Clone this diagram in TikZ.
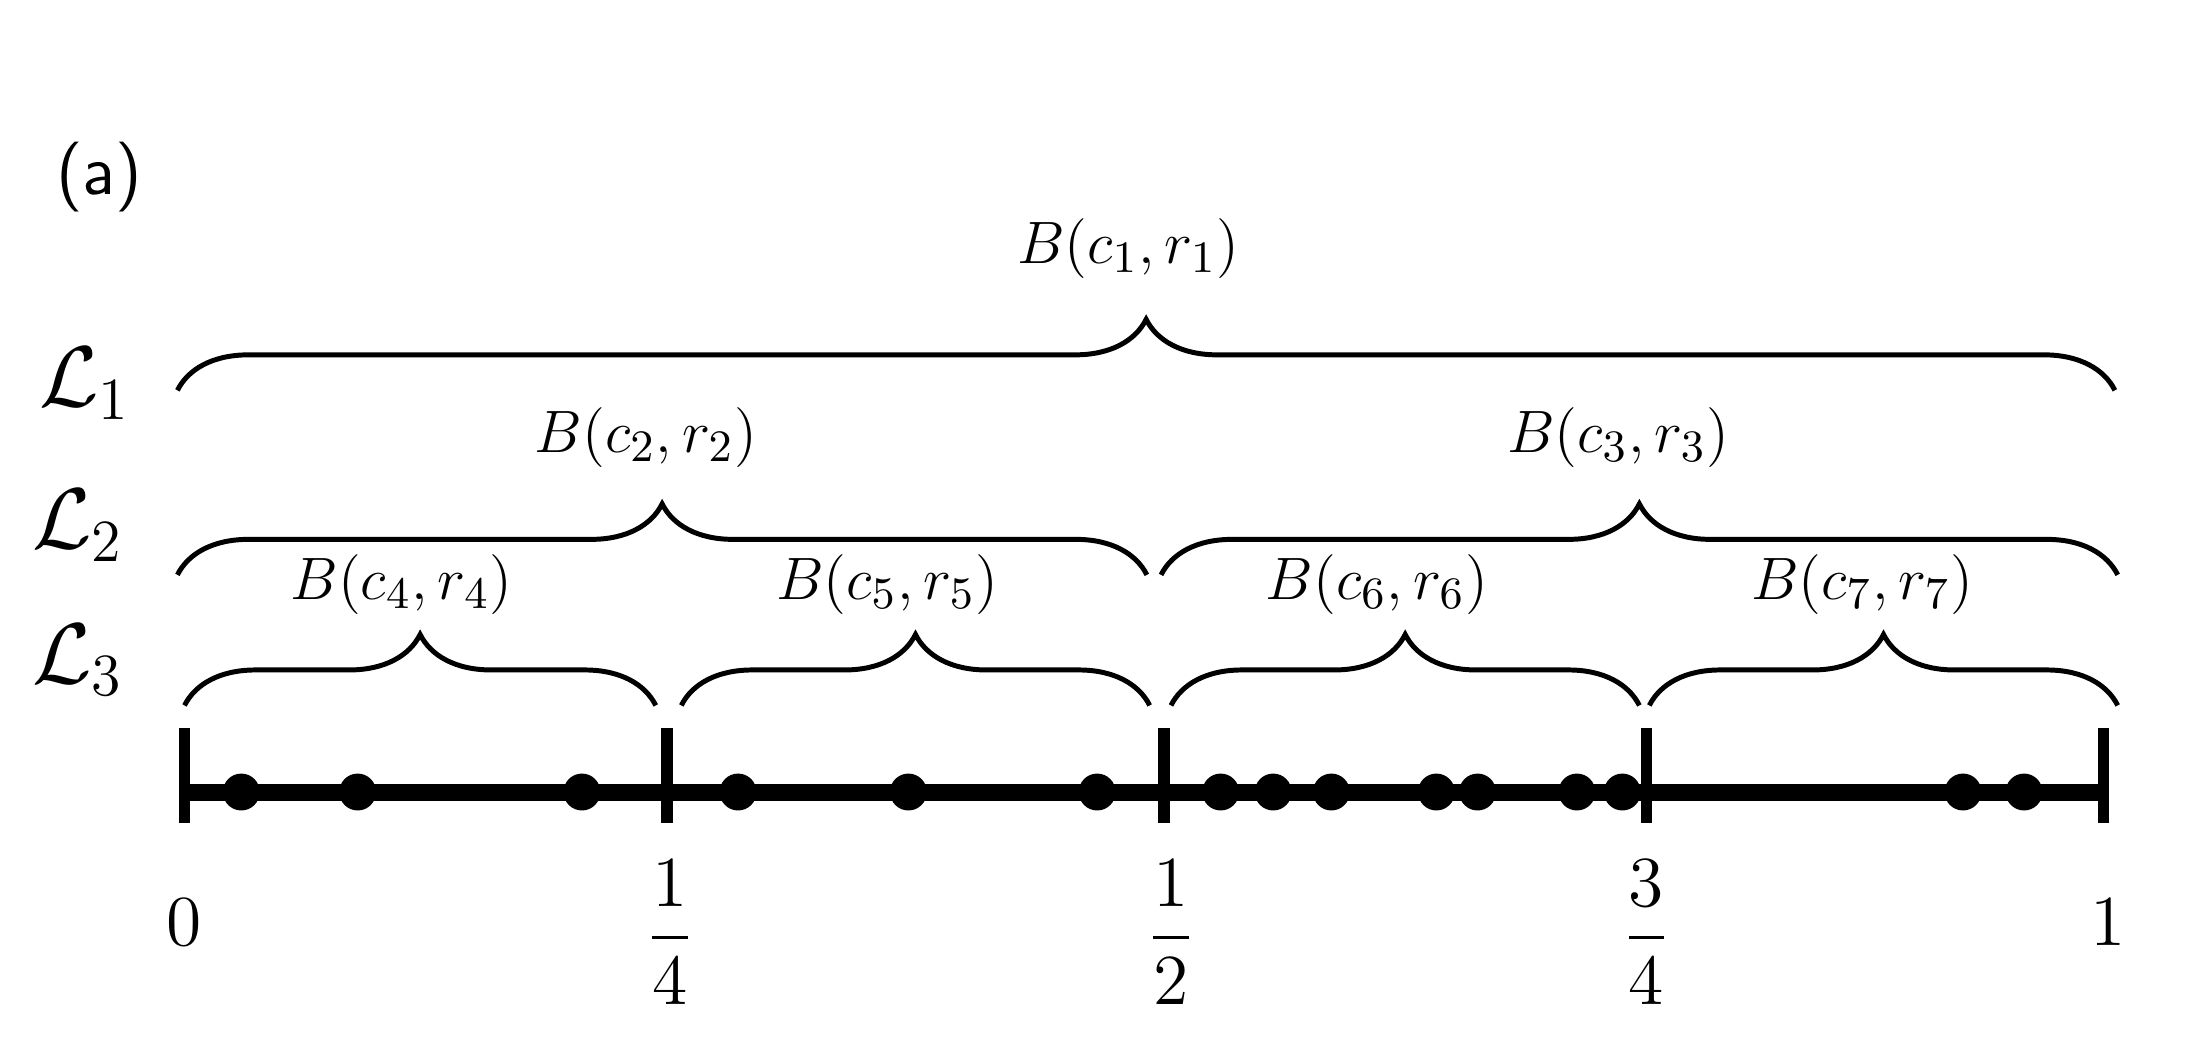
\documentclass[tikz,border=0pt]{standalone}
\usepackage{amsmath}
\usepackage{tikz}
\usetikzlibrary{decorations.pathreplacing}
\usetikzlibrary{positioning}
\usetikzlibrary{calc}
\tikzset{
  bracestyle/.style={decorate,decoration={brace,amplitude=5mm},line width=0.35mm},
  lbl/.style={font=\fontsize{13}{15}\selectfont},
  lvl/.style={font=\fontsize{17}{19}\selectfont},
  ticklbl/.style={font=\fontsize{14}{16}\selectfont}
}
\begin{document}
\begin{tikzpicture}[x=0.1mm,y=-0.1mm]
      \useasboundingbox (0,0) rectangle (1550,738);
      \node[font=\fontsize{14}{16}\selectfont\sffamily] (tag) at (70,125) {(a)};
      % axis and ticks
      \foreach \name/\x in {t0/130,t1/470,t2/820,t3/1160,t4/1482}
        \coordinate (\name) at (\x,558);
      \draw[line width=1.2mm] (t0) -- (t4);
      \foreach \name in {t0,t1,t2,t3,t4}
        \draw[line width=0.8mm] ($(\name)+(0,-45)$) -- ($(\name)+(0,22)$);
      \foreach \x in {170,252,410,520,640,773,860,897,938,1012,1041,1111,1143,1383,1426}
        \fill (\x,558) circle (13);
      % labels under the axis
      \node[ticklbl] (n0) at (130,650) {$0$};
      \node[ticklbl] (n1) at (472,657) {$\dfrac{1}{4}$};
      \node[ticklbl] (n2) at (825,657) {$\dfrac{1}{2}$};
      \node[ticklbl] (n3) at (1160,657) {$\dfrac{3}{4}$};
      \node[ticklbl] (n4) at (1485,650) {$1$};
      % levels
      \node[lvl] (L1) at (60,270) {$\mathcal{L}_1$};
      \node[lvl] (L2) at (55,370) {$\mathcal{L}_2$};
      \node[lvl] (L3) at (55,465) {$\mathcal{L}_3$};
      % braces
      \draw[bracestyle] (125,275) -- (1490,275);
      \node[lbl] (b1) at (795,175) {$B(c_1,r_1)$};
      \draw[bracestyle] (125,405) -- (808,405);
      \draw[bracestyle] (818,405) -- (1492,405);
      \node[lbl] (b2) at (455,308) {$B(c_2,r_2)$};
      \node[lbl] (b3) at (1140,308) {$B(c_3,r_3)$};
      \draw[bracestyle] (130,497) -- (462,497);
      \draw[bracestyle] (480,497) -- (810,497);
      \draw[bracestyle] (825,497) -- (1155,497);
      \draw[bracestyle] (1162,497) -- (1492,497);
      \node[lbl] (b4) at (283,412) {$B(c_4,r_4)$};
      \node[lbl] (b5) at (625,412) {$B(c_5,r_5)$};
      \node[lbl] (b6) at (970,412) {$B(c_6,r_6)$};
      \node[lbl] (b7) at (1312,412) {$B(c_7,r_7)$};
\end{tikzpicture}
\end{document}
